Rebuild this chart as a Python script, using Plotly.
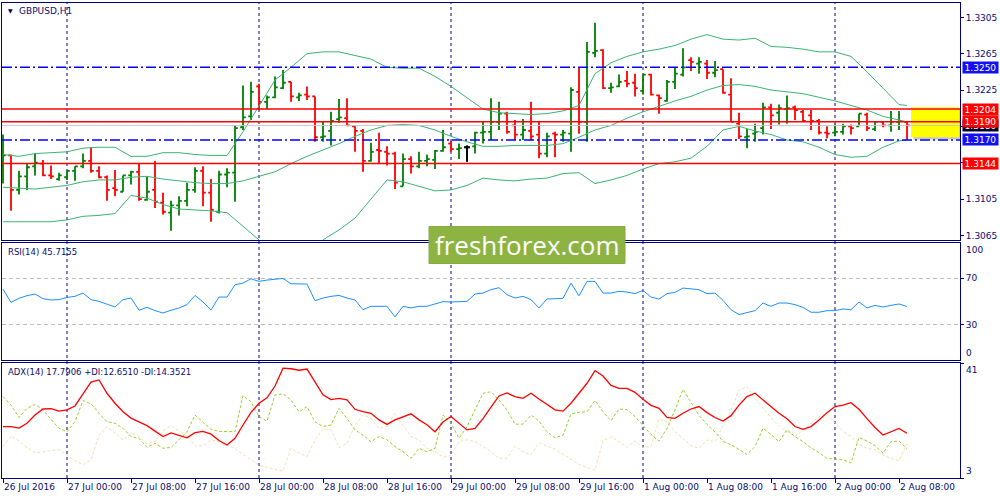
import plotly.graph_objects as go

# GBPUSD H1, bar 0 = 26 Jul 2016 16:00, one bar per hour (weekend skipped)
bar_open = [1.3141, 1.3153, 1.3115, 1.3130, 1.3141, 1.3144, 1.3131, 1.3127, 1.3129, 1.3136,
            1.3141, 1.3147, 1.3136, 1.3129, 1.3117, 1.3113, 1.3131, 1.3135, 1.3104, 1.3115,
            1.3101, 1.3090, 1.3098, 1.3103, 1.3115, 1.3136, 1.3112, 1.3091, 1.3132, 1.3134,
            1.3184, 1.3196, 1.3229, 1.3212, 1.3217, 1.3227, 1.3234, 1.3217, 1.3220, 1.3218,
            1.3173, 1.3180, 1.3193, 1.3194, 1.3185, 1.3180, 1.3147, 1.3159, 1.3157, 1.3155,
            1.3119, 1.3149, 1.3141, 1.3147, 1.3148, 1.3158, 1.3166, 1.3160, 1.3162, 1.3163,
            1.3178, 1.3179, 1.3190, 1.3199, 1.3186, 1.3176, 1.3180, 1.3176, 1.3155, 1.3177,
            1.3176, 1.3177, 1.3223, 1.3190, 1.3266, 1.3269, 1.3227, 1.3229, 1.3235, 1.3233,
            1.3224, 1.3242, 1.3219, 1.3213, 1.3234, 1.3242, 1.3258, 1.3254, 1.3254, 1.3244,
            1.3248, 1.3220, 1.3188, 1.3173, 1.3177, 1.3183, 1.3206, 1.3200, 1.3204, 1.3206,
            1.3201, 1.3197, 1.3191, 1.3178, 1.3178, 1.3179, 1.3185, 1.3185, 1.3198, 1.3182,
            1.3190, 1.3186, 1.3190, 1.3190]
bar_high = [1.3176, 1.3154, 1.3136, 1.3144, 1.3155, 1.3148, 1.3142, 1.3134, 1.3136, 1.3141,
            1.3155, 1.3162, 1.3141, 1.3131, 1.3137, 1.3131, 1.3136, 1.3144, 1.3130, 1.3147,
            1.3112, 1.3103, 1.3108, 1.3123, 1.3140, 1.3141, 1.3127, 1.3136, 1.3139, 1.3186,
            1.3230, 1.3234, 1.3232, 1.3219, 1.3240, 1.3247, 1.3234, 1.3222, 1.3229, 1.3218,
            1.3191, 1.3201, 1.3215, 1.3216, 1.3185, 1.3182, 1.3167, 1.3178, 1.3163, 1.3157,
            1.3155, 1.3152, 1.3157, 1.3154, 1.3159, 1.3181, 1.3169, 1.3166, 1.3164, 1.3179,
            1.3190, 1.3216, 1.3212, 1.3201, 1.3192, 1.3193, 1.3212, 1.3190, 1.3178, 1.3179,
            1.3181, 1.3228, 1.3250, 1.3278, 1.3299, 1.3270, 1.3233, 1.3242, 1.3246, 1.3243,
            1.3242, 1.3243, 1.3220, 1.3236, 1.3250, 1.3271, 1.3261, 1.3261, 1.3258, 1.3257,
            1.3248, 1.3238, 1.3200, 1.3182, 1.3188, 1.3211, 1.3210, 1.3209, 1.3219, 1.3208,
            1.3203, 1.3203, 1.3193, 1.3185, 1.3188, 1.3188, 1.3187, 1.3199, 1.3200, 1.3191,
            1.3191, 1.3202, 1.3202, 1.3191]
bar_low = [1.3122, 1.3092, 1.3110, 1.3115, 1.3131, 1.3130, 1.3127, 1.3125, 1.3126, 1.3125,
           1.3139, 1.3134, 1.3128, 1.3103, 1.3108, 1.3113, 1.3121, 1.3103, 1.3103, 1.3095,
           1.3088, 1.3070, 1.3087, 1.3097, 1.3112, 1.3097, 1.3080, 1.3089, 1.3118, 1.3102,
           1.3181, 1.3192, 1.3203, 1.3204, 1.3216, 1.3226, 1.3212, 1.3213, 1.3214, 1.3168,
           1.3168, 1.3164, 1.3189, 1.3185, 1.3157, 1.3135, 1.3146, 1.3144, 1.3142, 1.3116,
           1.3119, 1.3133, 1.3139, 1.3141, 1.3138, 1.3157, 1.3157, 1.3149, 1.3146, 1.3155,
           1.3166, 1.3170, 1.3181, 1.3177, 1.3170, 1.3170, 1.3170, 1.3150, 1.3151, 1.3151,
           1.3168, 1.3157, 1.3177, 1.3168, 1.3261, 1.3226, 1.3222, 1.3228, 1.3228, 1.3218,
           1.3220, 1.3219, 1.3199, 1.3212, 1.3226, 1.3240, 1.3246, 1.3243, 1.3237, 1.3239,
           1.3221, 1.3190, 1.3171, 1.3161, 1.3168, 1.3176, 1.3182, 1.3187, 1.3188, 1.3192,
           1.3190, 1.3181, 1.3176, 1.3172, 1.3174, 1.3176, 1.3176, 1.3185, 1.3180, 1.3180,
           1.3184, 1.3179, 1.3181, 1.3170]
bar_close = [1.3153, 1.3115, 1.3130, 1.3140, 1.3145, 1.3131, 1.3130, 1.3131, 1.3136, 1.3141,
             1.3147, 1.3136, 1.3129, 1.3115, 1.3115, 1.3131, 1.3135, 1.3105, 1.3113, 1.3102,
             1.3091, 1.3098, 1.3103, 1.3115, 1.3136, 1.3112, 1.3093, 1.3132, 1.3134, 1.3183,
             1.3195, 1.3223, 1.3212, 1.3217, 1.3228, 1.3233, 1.3218, 1.3219, 1.3218, 1.3173,
             1.3174, 1.3191, 1.3195, 1.3186, 1.3180, 1.3147, 1.3157, 1.3158, 1.3155, 1.3123,
             1.3149, 1.3141, 1.3147, 1.3149, 1.3158, 1.3162, 1.3160, 1.3161, 1.3162, 1.3178,
             1.3179, 1.3190, 1.3199, 1.3179, 1.3176, 1.3181, 1.3174, 1.3155, 1.3174, 1.3176,
             1.3178, 1.3225, 1.3190, 1.3267, 1.3268, 1.3227, 1.3228, 1.3234, 1.3232, 1.3227,
             1.3242, 1.3220, 1.3216, 1.3234, 1.3243, 1.3250, 1.3256, 1.3256, 1.3244, 1.3247,
             1.3222, 1.3190, 1.3174, 1.3174, 1.3179, 1.3206, 1.3197, 1.3205, 1.3205, 1.3203,
             1.3191, 1.3191, 1.3178, 1.3177, 1.3179, 1.3185, 1.3183, 1.3199, 1.3183, 1.3190,
             1.3186, 1.3190, 1.3191, 1.3186]

# Bollinger Bands(20), read every second bar
band_idx = list(range(0, 113, 2)) + [113]
bb_upper = [1.3154, 1.3152, 1.3155, 1.3156, 1.3157, 1.3161, 1.3162, 1.3162, 1.3152, 1.3152,
            1.3156, 1.3156, 1.3154, 1.3153, 1.3153, 1.3179, 1.3207, 1.3236, 1.3250, 1.3265,
            1.3267, 1.3267, 1.3263, 1.3259, 1.3250, 1.3249, 1.3249, 1.3240, 1.3229, 1.3216,
            1.3204, 1.3200, 1.3199, 1.3198, 1.3199, 1.3202, 1.3208, 1.3243, 1.3255, 1.3262,
            1.3267, 1.3270, 1.3274, 1.3281, 1.3286, 1.3281, 1.3280, 1.3282, 1.3273, 1.3272,
            1.3270, 1.3267, 1.3267, 1.3262, 1.3245, 1.3227, 1.3209, 1.3208]
bb_middle = [1.3118, 1.3117, 1.3116, 1.3118, 1.3120, 1.3124, 1.3126, 1.3126, 1.3129, 1.3130,
             1.3127, 1.3125, 1.3123, 1.3122, 1.3122, 1.3125, 1.3130, 1.3135, 1.3144, 1.3152,
             1.3159, 1.3166, 1.3174, 1.3181, 1.3186, 1.3187, 1.3186, 1.3181, 1.3174, 1.3168,
             1.3163, 1.3163, 1.3164, 1.3164, 1.3164, 1.3166, 1.3173, 1.3181, 1.3186, 1.3194,
             1.3201, 1.3207, 1.3213, 1.3218, 1.3225, 1.3230, 1.3231, 1.3229, 1.3225, 1.3223,
             1.3221, 1.3217, 1.3213, 1.3208, 1.3203, 1.3196, 1.3192, 1.3190]
bb_lower = [1.3080, 1.3080, 1.3080, 1.3080, 1.3082, 1.3086, 1.3087, 1.3089, 1.3109, 1.3106,
            1.3099, 1.3094, 1.3093, 1.3092, 1.3090, 1.3075, 1.3060, 1.3042, 1.3031, 1.3042,
            1.3060, 1.3071, 1.3084, 1.3105, 1.3126, 1.3124, 1.3119, 1.3114, 1.3115, 1.3120,
            1.3128, 1.3126, 1.3125, 1.3127, 1.3128, 1.3133, 1.3134, 1.3122, 1.3126, 1.3131,
            1.3138, 1.3144, 1.3146, 1.3150, 1.3163, 1.3181, 1.3185, 1.3180, 1.3176, 1.3170,
            1.3168, 1.3162, 1.3154, 1.3151, 1.3152, 1.3162, 1.3169, 1.3170]

rsi = [60.6, 49.3, 52.7, 55.0, 56.4, 52.4, 51.3, 51.6, 53.5, 54.4,
       57.2, 51.6, 50.1, 47.9, 45.3, 51.6, 53.0, 42.5, 45.0, 42.2,
       40.2, 42.5, 44.5, 47.3, 55.2, 49.6, 42.8, 53.8, 53.8, 64.3,
       65.7, 69.4, 67.2, 68.3, 69.1, 69.7, 65.2, 64.9, 64.9, 50.7,
       53.0, 54.4, 55.2, 53.0, 51.3, 43.0, 45.9, 45.9, 45.9, 36.8,
       45.9, 44.5, 45.9, 45.9, 48.2, 49.9, 49.6, 49.6, 50.1, 56.4,
       57.2, 60.1, 61.8, 55.8, 53.0, 54.4, 51.6, 44.5, 52.1, 52.4,
       52.7, 65.7, 54.9, 67.2, 67.2, 57.2, 57.2, 58.7, 58.1, 56.7,
       59.5, 53.8, 52.1, 56.7, 57.8, 61.5, 60.9, 60.1, 56.7, 57.2,
       51.0, 43.0, 38.8, 40.8, 42.2, 48.7, 45.9, 48.7, 48.7, 47.3,
       45.0, 40.8, 40.8, 42.2, 42.2, 43.6, 43.0, 49.6, 44.5, 46.7,
       45.3, 46.7, 47.9, 45.7]

adx = [20.0, 20.0, 19.5, 21.1, 23.8, 25.8, 25.9, 25.1, 25.5, 26.8,
       30.8, 34.7, 35.4, 31.0, 27.7, 24.9, 22.8, 21.5, 20.3, 18.5,
       16.7, 17.9, 17.1, 16.3, 18.0, 18.4, 17.5, 15.4, 13.9, 16.1,
       20.5, 24.7, 27.7, 29.5, 33.4, 39.3, 39.1, 38.6, 39.0, 34.8,
       30.5, 28.9, 29.3, 28.8, 25.7, 24.9, 24.4, 22.2, 20.7, 22.2,
       23.3, 24.2, 22.2, 20.6, 18.3, 21.5, 23.3, 21.1, 18.9, 19.4,
       22.6, 26.4, 30.1, 31.1, 29.9, 29.3, 31.0, 29.1, 27.3, 25.5,
       25.1, 27.7, 31.0, 34.3, 38.5, 36.7, 33.6, 32.6, 32.6, 31.3,
       29.0, 27.0, 26.0, 23.0, 22.7, 24.4, 25.8, 26.6, 24.6, 23.0,
       21.8, 23.6, 27.1, 29.9, 31.0, 28.8, 26.6, 24.4, 22.6, 20.0,
       19.1, 20.0, 22.2, 24.6, 26.6, 27.1, 27.9, 25.7, 22.6, 19.7,
       17.2, 18.3, 19.4, 17.79]
plus_di = [29.9, 27.1, 23.0, 26.0, 27.3, 25.5, 22.4, 19.4, 18.3, 21.6,
           28.6, 27.5, 24.4, 21.6, 21.1, 19.4, 16.7, 16.1, 13.1, 14.5,
           12.8, 13.1, 15.6, 18.3, 23.8, 21.6, 19.1, 18.4, 18.3, 18.3,
           30.2, 28.2, 23.3, 21.8, 30.4, 30.8, 28.8, 24.9, 26.6, 21.6,
           20.0, 20.5, 26.0, 22.7, 18.9, 17.2, 15.0, 16.7, 15.6, 13.4,
           11.7, 9.5, 12.8, 11.7, 12.8, 23.8, 21.1, 16.1, 20.0, 25.5,
           31.0, 31.5, 28.8, 25.5, 20.8, 20.8, 23.8, 21.8, 18.3, 16.3,
           17.1, 24.2, 24.7, 24.9, 28.6, 24.9, 21.9, 25.8, 25.6, 23.3,
           20.5, 17.4, 15.2, 19.4, 25.5, 32.3, 28.0, 23.7, 20.7, 18.2,
           15.1, 14.0, 12.4, 10.8, 13.4, 19.4, 17.4, 15.0, 18.9, 16.7,
           15.0, 13.0, 11.4, 9.5, 9.2, 9.0, 8.0, 16.4, 15.2, 13.7,
           11.2, 15.0, 15.2, 12.65]
minus_di = [13.4, 16.9, 15.2, 13.0, 11.4, 11.6, 12.1, 12.3, 10.6, 8.7,
            7.4, 9.0, 17.2, 20.0, 17.8, 15.6, 17.8, 16.7, 14.2, 15.0,
            18.6, 20.2, 18.6, 17.0, 13.6, 13.6, 15.6, 15.0, 14.0, 12.8,
            10.8, 9.0, 7.2, 6.5, 5.9, 5.3, 12.8, 11.2, 10.1, 15.6,
            19.4, 18.9, 13.1, 14.5, 20.5, 23.8, 22.7, 19.4, 20.0, 24.4,
            20.5, 16.7, 15.6, 12.8, 11.7, 9.9, 10.4, 15.0, 15.6, 15.0,
            13.4, 11.7, 9.5, 9.5, 13.6, 11.7, 10.7, 14.7, 13.6, 12.5,
            10.9, 9.2, 7.5, 6.5, 5.6, 15.3, 16.6, 15.0, 13.1, 15.3,
            13.1, 13.4, 22.5, 21.6, 18.3, 16.1, 13.7, 12.8, 15.6, 15.0,
            20.0, 25.3, 32.1, 33.2, 29.3, 26.0, 23.0, 20.0, 18.3, 16.7,
            18.9, 21.1, 23.3, 24.2, 21.1, 18.5, 16.7, 14.1, 12.8, 12.4,
            10.6, 9.5, 8.7, 14.35]

time_ticks = list(range(0, 113, 8))
time_labels = ["26 Jul 2016", "27 Jul 00:00", "27 Jul 08:00", "27 Jul 16:00",
               "28 Jul 00:00", "28 Jul 08:00", "28 Jul 16:00", "29 Jul 00:00",
               "29 Jul 08:00", "29 Jul 16:00", "1 Aug 00:00", "1 Aug 08:00",
               "1 Aug 16:00", "2 Aug 00:00", "2 Aug 08:00"]
day_starts = [8, 32, 56, 80, 104]

price_ticks = [1.3065, 1.3105, 1.3145, 1.3185, 1.3225, 1.3265, 1.3305]
red_levels = [1.3204, 1.3190, 1.3144]
blue_levels = [1.3250, 1.3170]
bid_price = 1.3186
zone_low, zone_high = 1.3173, 1.3206
zone_start, zone_end = 113.5, 119.5

NAVY = "#000080"
TXT = "#0b0b6e"
FONT = "DejaVu Sans"

# plot area in pixels: x 2..960, y 3..478
def px(x):
    return (x - 2) / 958

def py(y):
    return (478 - y) / 475

bars = list(range(len(bar_open)))
fig = go.Figure()

# Bollinger bands
for band in (bb_upper, bb_middle, bb_lower):
    fig.add_trace(go.Scatter(x=band_idx, y=band, mode="lines",
                             line=dict(color="#3cb371", width=1),
                             xaxis="x", yaxis="y", hoverinfo="skip"))

fig.add_trace(go.Ohlc(x=bars, open=bar_open, high=bar_high, low=bar_low, close=bar_close,
                      increasing=dict(line=dict(color="#008000", width=1.8)),
                      decreasing=dict(line=dict(color="#ff0000", width=1.8)),
                      tickwidth=0.35, xaxis="x", yaxis="y"))

# unchanged bars are drawn black in the terminal
flat = [i for i in bars if bar_open[i] == bar_close[i]]
fig.add_trace(go.Ohlc(x=flat, open=[bar_open[i] for i in flat], high=[bar_high[i] for i in flat],
                      low=[bar_low[i] for i in flat], close=[bar_close[i] for i in flat],
                      increasing=dict(line=dict(color="#000000", width=1.8)),
                      decreasing=dict(line=dict(color="#000000", width=1.8)),
                      tickwidth=0.35, xaxis="x", yaxis="y"))

fig.add_trace(go.Scatter(x=bars, y=rsi, mode="lines", line=dict(color="#1e90ff", width=1),
                         xaxis="x2", yaxis="y2"))

fig.add_trace(go.Scatter(x=bars, y=minus_di, mode="lines",
                         line=dict(color="#f5deb3", width=1, dash="3px,2px"),
                         xaxis="x3", yaxis="y3"))
fig.add_trace(go.Scatter(x=bars, y=plus_di, mode="lines",
                         line=dict(color="#9acd32", width=1, dash="3px,2px"),
                         xaxis="x3", yaxis="y3"))
fig.add_trace(go.Scatter(x=bars, y=adx, mode="lines", line=dict(color="#ff0000", width=1.3),
                         xaxis="x3", yaxis="y3"))

shapes = []
for d in day_starts:
    shapes.append(dict(type="line", xref="x", yref="paper", x0=d, x1=d, y0=0, y1=1,
                       line=dict(color=NAVY, width=1, dash="3px,3px"), layer="below"))

# target zone with soft shadow
shapes.append(dict(type="rect", xref="x", yref="y", x0=zone_start + 0.3, x1=zone_end + 0.3,
                   y0=zone_low - 0.00025, y1=zone_high - 0.00025,
                   fillcolor="rgba(0,0,0,0.22)", line=dict(width=0), layer="above"))
shapes.append(dict(type="rect", xref="x", yref="y", x0=zone_start, x1=zone_end,
                   y0=zone_low, y1=zone_high,
                   fillcolor="#ffff00", line=dict(width=0), layer="above"))

shapes.append(dict(type="line", xref="x domain", yref="y", x0=0, x1=1, y0=bid_price, y1=bid_price,
                   line=dict(color="#c8c8c8", width=1), layer="above"))
for lv in red_levels:
    shapes.append(dict(type="line", xref="x domain", yref="y", x0=0, x1=1, y0=lv, y1=lv,
                       line=dict(color="#ff0000", width=1.5), layer="above"))
for lv in blue_levels:
    shapes.append(dict(type="line", xref="x domain", yref="y", x0=0, x1=1, y0=lv, y1=lv,
                       line=dict(color="#0000ff", width=1.5, dash="10px,3px,2px,3px"), layer="above"))

# freshforex watermark box
shapes.append(dict(type="rect", xref="paper", yref="paper", x0=px(429), x1=px(625),
                   y0=py(263.5), y1=py(226.5), fillcolor="#8db443",
                   line=dict(color="#86ab3e", width=1), layer="above"))

annotations = []


def level_tag(value, bg, yref="y"):
    annotations.append(dict(xref="paper", yref=yref, x=1, y=value, xanchor="left", yanchor="middle",
                            xshift=2, text=f"{value:.4f}", showarrow=False, width=35, height=11,
                            bgcolor=bg, borderpad=0, font=dict(family=FONT, size=9, color="white")))


level_tag(blue_levels[0], "#1010f0")
level_tag(red_levels[0], "#ff0000")
level_tag(bid_price, "#000030")
level_tag(red_levels[1], "#ff0000")
level_tag(blue_levels[1], "#1010f0")
level_tag(red_levels[2], "#ff0000")

for val, yref, anchor in ((100, "y2", "top"), (0, "y2", "bottom"), (41, "y3", "top"), (3, "y3", "bottom")):
    annotations.append(dict(xref="paper", yref=yref, x=1, y=val, xanchor="left", yanchor=anchor,
                            xshift=4, text=str(val), showarrow=False,
                            font=dict(family=FONT, size=9, color=TXT)))

annotations += [
    dict(xref="paper", yref="paper", x=px(6), y=py(11), xanchor="left", yanchor="middle",
         text="▼", showarrow=False, font=dict(family=FONT, size=6, color="#000040")),
    dict(xref="paper", yref="paper", x=px(17), y=py(11), xanchor="left", yanchor="middle",
         text="GBPUSD,H1", showarrow=False, font=dict(family=FONT, size=9, color=TXT)),
    dict(xref="paper", yref="paper", x=px(6), y=py(252), xanchor="left", yanchor="middle",
         text=f"RSI(14) {45.7155:.4f}", showarrow=False, font=dict(family=FONT, size=8.5, color=TXT)),
    dict(xref="paper", yref="paper", x=px(6), y=py(372.5), xanchor="left", yanchor="middle",
         text="ADX(14) 17.7906 +DI:12.6510 -DI:14.3521", showarrow=False,
         font=dict(family=FONT, size=8.5, color=TXT)),
    dict(xref="paper", yref="paper", x=px(527), y=py(245), xanchor="center", yanchor="middle",
         text="freshforex.com", showarrow=False, font=dict(family="Open Sans", size=26, color="white")),
]

x_common = dict(range=[-0.125, 119.625], showline=True, linecolor=NAVY, linewidth=1, mirror=True,
                zeroline=False, showgrid=False, fixedrange=True, automargin=False, tickangle=0)
y_common = dict(side="right", showline=True, linecolor=NAVY, linewidth=1, mirror=True,
                zeroline=False, ticks="outside", ticklen=3, tickcolor=NAVY, automargin=False,
                tickfont=dict(family=FONT, size=9, color=TXT), fixedrange=True)

fig.update_layout(
    width=1000, height=500,
    margin=dict(l=2, r=40, t=3, b=22),
    paper_bgcolor="white", plot_bgcolor="white",
    showlegend=False,
    xaxis=dict(**x_common, anchor="y", showticklabels=False, rangeslider=dict(visible=False)),
    xaxis2=dict(**x_common, anchor="y2", showticklabels=False),
    xaxis3=dict(**x_common, anchor="y3", tickvals=time_ticks, ticktext=time_labels,
                ticks="outside", ticklen=4, tickcolor=NAVY, ticklabelposition="outside right",
                tickfont=dict(family=FONT, size=9, color=TXT)),
    yaxis=dict(**y_common, domain=[py(240), 1], range=[1.30599, 1.33208], anchor="x",
               tickvals=price_ticks, tickformat=".4f", showgrid=False),
    yaxis2=dict(**y_common, domain=[py(360), py(243)], range=[0, 100], anchor="x2",
                tickvals=[30, 70], showgrid=True, gridcolor="#c0c0c0", griddash="4px,3px"),
    yaxis3=dict(**y_common, domain=[0, py(363)], range=[3, 41], anchor="x3",
                tickvals=[3, 41], ticktext=["", ""], showgrid=False),
    shapes=shapes,
    annotations=annotations,
)

# the page's default body margin would push the chart 8px off the window
fig.write_html("out.html", config={"displayModeBar": False},
               post_script="document.body.style.margin='0';")
